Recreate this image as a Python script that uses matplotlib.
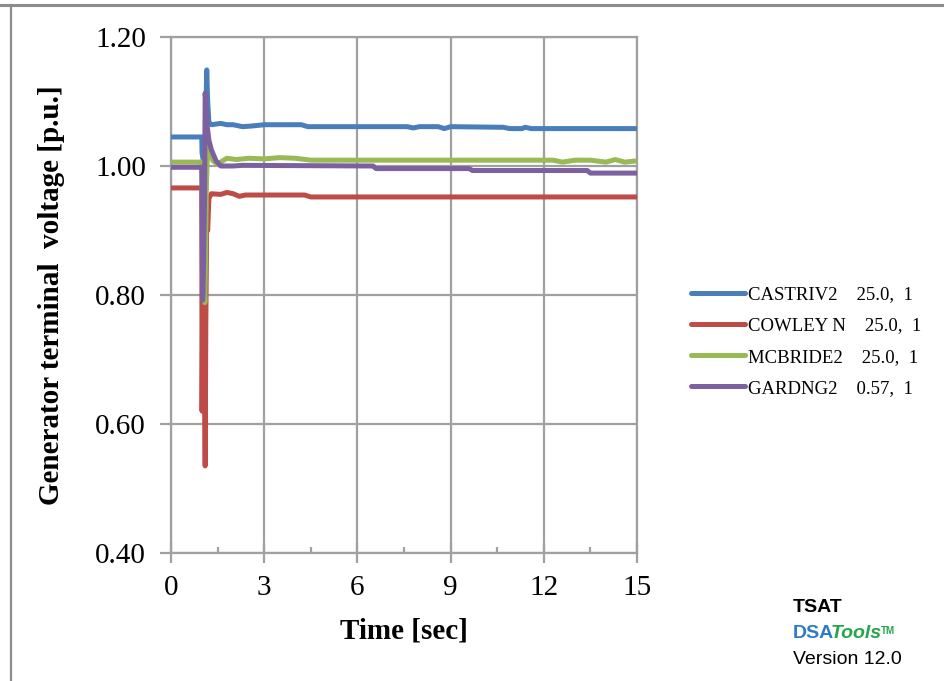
import matplotlib.pyplot as plt
from matplotlib.lines import Line2D

# time [s] and terminal voltage [p.u.] for each generator
cast_t = [0, 0.99, 1.0, 1.05, 1.10, 1.13, 1.15, 1.18, 1.22, 1.3, 1.6, 1.8, 2.0, 2.3, 2.6, 3.0,
          4.2, 4.4, 7.6, 7.8, 8.0, 8.6, 8.8, 9.0, 10.7, 10.9, 11.3, 11.4, 11.6, 15]
cast_v = [1.045, 1.045, 1.02, 1.005, 1.03, 1.10, 1.149, 1.10, 1.068, 1.064, 1.066, 1.064, 1.064,
          1.061, 1.062, 1.064, 1.064, 1.061, 1.061, 1.059, 1.061, 1.061, 1.058, 1.061, 1.060,
          1.058, 1.058, 1.060, 1.058, 1.058]

cow_t = [0, 0.99, 1.0, 1.02, 1.04, 1.06, 1.08, 1.10, 1.12, 1.15, 1.18, 1.22, 1.3, 1.6, 1.8, 2.0,
         2.2, 2.4, 4.3, 4.5, 15]
cow_v = [0.966, 0.966, 0.62, 0.80, 0.64, 0.78, 0.67, 0.535, 0.75, 0.92, 0.90, 0.95, 0.957, 0.956,
         0.959, 0.957, 0.953, 0.955, 0.955, 0.952, 0.952]

mcb_t = [0, 0.99, 1.0, 1.03, 1.06, 1.09, 1.11, 1.14, 1.18, 1.25, 1.35, 1.5, 1.8, 2.1, 2.5, 3.0,
         3.5, 4.0, 4.5, 12.3, 12.6, 13.0, 13.5, 14.0, 14.3, 14.6, 15]
mcb_v = [1.006, 1.006, 0.98, 0.90, 0.82, 0.788, 0.85, 0.97, 1.03, 1.02, 1.008, 1.003, 1.012,
         1.010, 1.012, 1.011, 1.013, 1.012, 1.009, 1.009, 1.006, 1.009, 1.009, 1.006, 1.010,
         1.006, 1.008]

gar_t = [0, 0.99, 1.0, 1.02, 1.05, 1.08, 1.10, 1.13, 1.17, 1.22, 1.3, 1.45, 1.6, 2.0, 2.3, 6.5,
         6.6, 9.6, 9.7, 13.4, 13.5, 15]
gar_v = [0.998, 0.998, 0.95, 0.792, 0.85, 0.95, 1.113, 1.09, 1.06, 1.04, 1.025, 1.008, 1.0, 1.0,
         1.001, 1.0, 0.996, 0.996, 0.993, 0.993, 0.989, 0.989]

labels = ['CASTRIV2    25.0,  1', 'COWLEY N    25.0,  1',
          'MCBRIDE2    25.0,  1', 'GARDNG2    0.57,  1']
colors = ['#4a7ebb', '#be4b48', '#98b954', '#7d60a0']

x_ticks = [0, 3, 6, 9, 12, 15]
y_ticks = [0.40, 0.60, 0.80, 1.00, 1.20]

grid_color = '#a0a0a0'

fig = plt.figure(figsize=(9.44, 6.81), dpi=100)
ax = fig.add_axes([171 / 944, 1 - 553 / 681, 466 / 944, 516 / 681])

series = [(cast_t, cast_v), (cow_t, cow_v), (mcb_t, mcb_v), (gar_t, gar_v)]
for (t, v), c, lab in zip(series, colors, labels):
    ax.plot(t, v, color=c, lw=3.6, solid_joinstyle='round', solid_capstyle='round',
            label=lab, zorder=3)

ax.set_xlim(0, 15)
ax.set_ylim(0.40, 1.20)
ax.set_xticks(x_ticks)
ax.set_xticks([1.5 + 3 * i for i in range(5)], minor=True)
ax.set_yticks(y_ticks)
ax.set_yticklabels(['%.2f' % y for y in y_ticks])
ax.grid(True, color=grid_color, lw=1.6, zorder=1)
for s in ax.spines.values():
    s.set_color(grid_color)
    s.set_linewidth(1.6)

serif = 'Liberation Serif'
ax.tick_params(axis='x', which='major', direction='inout', length=14, width=1.6,
               color=grid_color, pad=9, labelsize=21)
ax.tick_params(axis='x', which='minor', direction='in', length=4.5, width=1.6,
               color=grid_color)
ax.tick_params(axis='y', direction='out', length=8, width=1.6, color=grid_color,
               pad=10, labelsize=21)
for lbl in ax.get_xticklabels() + ax.get_yticklabels():
    lbl.set_fontfamily(serif)

ax.set_xlabel('Time [sec]', fontfamily=serif, fontweight='bold', fontsize=21, labelpad=12)
ax.set_ylabel('Generator terminal  voltage [p.u.]', fontfamily=serif, fontweight='bold',
              fontsize=21, labelpad=22)

handles = [Line2D([], [], color=c, lw=3.6, solid_capstyle='round') for c in colors]
fig.legend(handles, labels, loc='center left', bbox_to_anchor=(691 / 944, 1 - 341.5 / 681),
           frameon=False, prop={'family': serif, 'size': 13.5}, handlelength=2.9,
           handletextpad=0.12, labelspacing=0.75, borderpad=0, borderaxespad=0)

# outer chart frame (top and left edges)
fig.add_artist(Line2D([0, 1], [1 - 5 / 681] * 2, color='#8c8c8c', lw=2.2,
                      transform=fig.transFigure))
fig.add_artist(Line2D([11 / 944] * 2, [0, 1 - 5 / 681], color='#8c8c8c', lw=1.6,
                      transform=fig.transFigure))

# TSAT stamp
sans = 'Liberation Sans'
fig.text(793 / 944, 1 - 607 / 681, 'TSAT', fontfamily=sans, fontweight='bold', fontsize=14,
         va='center', ha='left')
t_dsa = fig.text(793 / 944, 1 - 633 / 681, 'DSA', fontfamily=sans, fontweight='bold',
                 fontsize=14, color='#2e7dc4', va='center', ha='left')
t_tools = ax.annotate('Tools', xy=(1, 0), xycoords=t_dsa, xytext=(-2.5, 0),
                      textcoords='offset points', fontfamily=sans, fontweight='bold',
                      fontstyle='italic', fontsize=14, color='#25a54a', va='bottom',
                      ha='left', annotation_clip=False)
ax.annotate('TM', xy=(1, 1), xycoords=t_tools, xytext=(-1, -1), textcoords='offset points',
            fontfamily=sans, fontweight='bold', fontsize=7, color='#25a54a', va='top',
            ha='left', annotation_clip=False)
fig.text(793 / 944, 1 - 660 / 681, 'Version 12.0', fontfamily=sans, fontsize=14,
         va='center', ha='left')

fig.savefig('out.png', dpi=100)
